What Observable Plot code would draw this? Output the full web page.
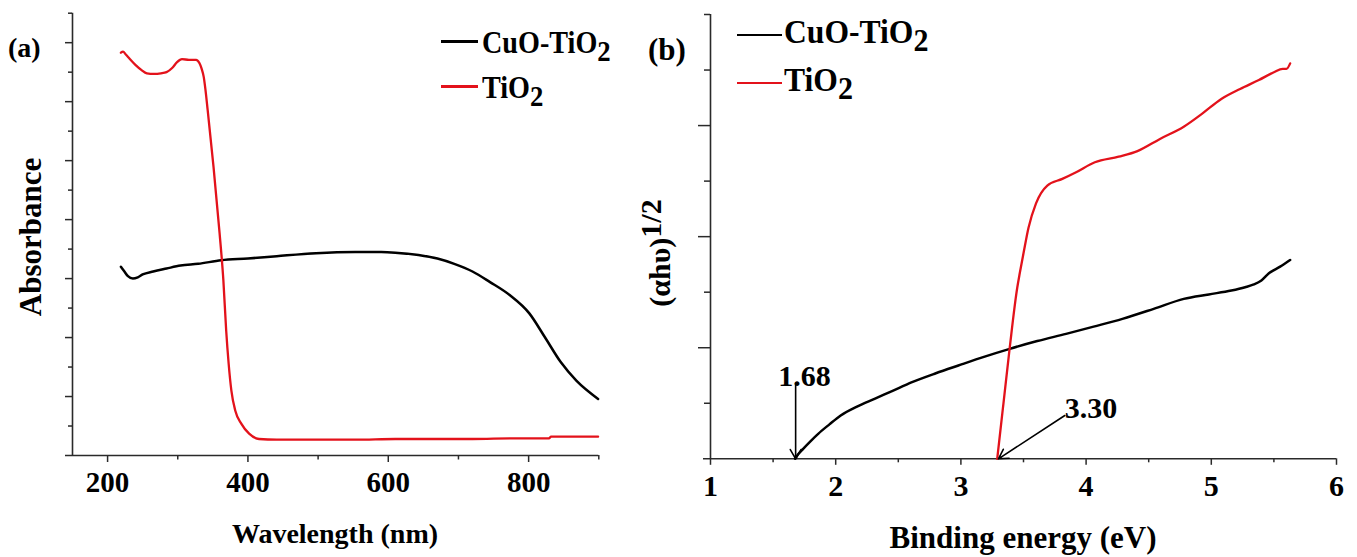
<!DOCTYPE html>
<html><head><meta charset="utf-8">
<script src="https://cdn.jsdelivr.net/npm/d3@7"></script>
<script src="https://cdn.jsdelivr.net/npm/@observablehq/plot@0.6"></script>
<style>
body{margin:0;background:#fff;}
#fig{position:relative;width:1357px;height:557px;overflow:hidden;font-family:"Liberation Serif","Times New Roman",serif;font-weight:bold;color:#000;background:#fff;}
.abs{position:absolute;white-space:nowrap;line-height:1;}
#panelA{position:absolute;left:0;top:0;width:620px;height:557px;}
#panelB{position:absolute;left:620px;top:0;width:737px;height:557px;}
#panelA svg,#panelB svg{max-width:none !important;}
.sub{position:relative;top:8px;font-size:0.95em;}
</style></head><body>
<div id="fig"><div id="panelA"></div><div id="panelB"></div></div>
<script>
// ---------- data ----------
const seriesMain = ["CuO-TiO", "TiO"];
const seriesSub = ["2", "2"];
const seriesColors = ["#000000", "#e3121b"];

// Panel (a): absorbance vs wavelength
const cuoWl  = [219, 224, 229, 236, 243, 250, 265, 284, 304, 329, 362, 400, 441, 497, 553, 590, 610, 643, 670, 694, 720, 745, 773, 801, 823, 846, 868, 899];
const cuoAbs = [3.20, 3.12, 3.04, 3.00, 3.02, 3.07, 3.12, 3.17, 3.22, 3.25, 3.31, 3.34, 3.38, 3.43, 3.45, 3.45, 3.44, 3.40, 3.34, 3.25, 3.12, 2.94, 2.72, 2.41, 2.01, 1.58, 1.27, 0.96];
const tio2Wl  = [219, 222, 226, 232, 240, 248, 256, 266, 276, 284, 292, 299, 306, 316, 326, 331, 334, 337, 339.5, 342.6, 351, 359.6, 365, 369, 372.5, 376.4, 382, 390.5, 401.7, 415.8, 441, 500, 553, 610, 666, 720, 780, 829, 832, 860, 899];
const tio2Abs = [6.83, 6.85, 6.80, 6.72, 6.62, 6.54, 6.48, 6.47, 6.48, 6.50, 6.57, 6.67, 6.72, 6.71, 6.71, 6.65, 6.56, 6.42, 6.20, 5.86, 4.89, 3.77, 2.97, 2.12, 1.56, 1.10, 0.76, 0.54, 0.37, 0.28, 0.27, 0.27, 0.27, 0.28, 0.28, 0.28, 0.29, 0.29, 0.32, 0.32, 0.32];
const aMajorX = [200, 400, 600, 800];
const aMinorX = [300, 500, 700, 900];
const aMajorY = [1, 2, 3, 4, 5, 6, 7];
const aMinorY = [0.5, 1.5, 2.5, 3.5, 4.5, 5.5, 6.5, 7.5];

// Panel (b): (alpha h nu)^1/2 vs energy
const cuoE = [1.676, 1.70, 1.74, 1.80, 1.86, 1.95, 2.04, 2.17, 2.31, 2.45, 2.61, 2.80, 2.98, 3.19, 3.39, 3.61, 3.84, 4.06, 4.29, 4.54, 4.78, 4.98, 5.16, 5.27, 5.34, 5.40, 5.46, 5.55, 5.63];
const cuoV = [0, 0.04, 0.09, 0.16, 0.225, 0.31, 0.39, 0.47, 0.54, 0.61, 0.69, 0.77, 0.84, 0.92, 0.99, 1.06, 1.125, 1.19, 1.26, 1.35, 1.44, 1.48, 1.515, 1.545, 1.57, 1.605, 1.67, 1.73, 1.79];
const tio2E = [3.29, 3.34, 3.39, 3.45, 3.47, 3.50, 3.54, 3.60, 3.69, 3.81, 3.92, 4.07, 4.26, 4.41, 4.59, 4.78, 4.93, 5.08, 5.23, 5.38, 5.50, 5.57, 5.60, 5.63];
const tio2V = [0, 0.50, 1.00, 1.54, 1.67, 1.85, 2.08, 2.30, 2.46, 2.52, 2.58, 2.67, 2.72, 2.77, 2.88, 2.99, 3.11, 3.24, 3.33, 3.41, 3.48, 3.51, 3.51, 3.56];
const bMajorX = [1, 2, 3, 4, 5, 6];
const bMinorX = [1.5, 2.5, 3.5, 4.5, 5.5];
const bMajorY = [1, 2, 3];
const bMinorY = [0.5, 1.5, 2.5, 3.5, 4];
const gapText = ["1.68", "3.30"];
const gapTextX = [1.75, 3.83];
const gapTextY = [0.74, 0.45];
const arrowX1 = [1.68, 3.83];
const arrowY1 = [0.68, 0.39];
const arrowX2 = [1.68, 3.30];
const arrowY2 = [0, 0];

// ---------- helpers ----------
const rows = (xs, ys) => xs.map((x, i) => ({x, y: ys[i]}));
const axisColor = "#2a2a2a";
const font = "'Liberation Serif','Times New Roman',serif";
const svgStyle = {fontFamily: font, fontWeight: "bold", fontSize: "29px", color: "#000", background: "transparent", overflow: "visible", maxWidth: "none"};

// ---------- panel (a) ----------
const plotA = Plot.plot({
  width: 620, height: 557,
  marginLeft: 72, marginRight: 21.7, marginTop: 12.7, marginBottom: 102,
  x: {domain: [150, 900], label: null},
  y: {domain: [0, 7.5], label: null},
  style: svgStyle,
  marks: [
    Plot.axisX(aMajorX, {tickSize: 7, tickPadding: 9, fontSize: 29, label: null, stroke: axisColor, fill: "#000", strokeWidth: 1.5, tickFormat: d => String(d)}),
    Plot.axisX(aMinorX, {tickSize: 4.5, tickFormat: () => "", label: null, stroke: axisColor, strokeWidth: 1.5}),
    Plot.axisY(aMajorY, {tickSize: 7, tickFormat: () => "", label: null, stroke: axisColor, strokeWidth: 1.5}),
    Plot.axisY(aMinorY, {tickSize: 4, tickFormat: () => "", label: null, stroke: axisColor, strokeWidth: 1.5}),
    Plot.ruleY([0], {stroke: axisColor, strokeWidth: 1.6, insetLeft: -7}),
    Plot.ruleX([150], {stroke: axisColor, strokeWidth: 1.6}),
    Plot.line(rows(cuoWl, cuoAbs), {x: "x", y: "y", stroke: seriesColors[0], strokeWidth: 2.5, curve: "monotone-x"}),
    Plot.line(rows(tio2Wl, tio2Abs), {x: "x", y: "y", stroke: seriesColors[1], strokeWidth: 2.3, curve: "monotone-x"})
  ]
});
document.getElementById("panelA").appendChild(plotA);

// ---------- panel (b) ----------
const plotB = Plot.plot({
  width: 737, height: 557,
  marginLeft: 90, marginRight: 21, marginTop: 14, marginBottom: 98.7,
  x: {domain: [1, 6], label: null},
  y: {domain: [0, 4], label: null},
  style: svgStyle,
  marks: [
    Plot.axisX(bMajorX, {tickSize: 6.5, tickPadding: 9.5, fontSize: 30, label: null, stroke: axisColor, fill: "#000", strokeWidth: 1.5, tickFormat: d => String(d)}),
    Plot.axisX(bMinorX, {tickSize: 4, tickFormat: () => "", label: null, stroke: axisColor, strokeWidth: 1.5}),
    Plot.axisY(bMajorY, {tickSize: 12, tickFormat: () => "", label: null, stroke: axisColor, strokeWidth: 1.5}),
    Plot.axisY(bMinorY, {tickSize: 6, tickFormat: () => "", label: null, stroke: axisColor, strokeWidth: 1.5}),
    Plot.ruleY([0], {stroke: axisColor, strokeWidth: 1.6, insetLeft: -7}),
    Plot.ruleX([1], {stroke: axisColor, strokeWidth: 1.6}),
    Plot.line(rows(cuoE, cuoV), {x: "x", y: "y", stroke: seriesColors[0], strokeWidth: 2.5, curve: "monotone-x"}),
    Plot.line(rows(tio2E, tio2V), {x: "x", y: "y", stroke: seriesColors[1], strokeWidth: 2.3, curve: "monotone-x"}),
    Plot.arrow(arrowX1.map((x1, i) => ({x1, y1: arrowY1[i], x2: arrowX2[i], y2: arrowY2[i]})),
      {x1: "x1", y1: "y1", x2: "x2", y2: "y2", stroke: "#000", strokeWidth: 1.6, headLength: 10}),
    Plot.text([0], {x: () => gapTextX[0], y: () => gapTextY[0], text: () => gapText[0], textAnchor: "middle", lineAnchor: "middle", fontSize: 30, fontWeight: "bold", fill: "#000"}),
    Plot.text([1], {x: () => gapTextX[1], y: () => gapTextY[1], text: () => gapText[1], textAnchor: "start", lineAnchor: "middle", fontSize: 30, fontWeight: "bold", fill: "#000"})
  ]
});
document.getElementById("panelB").appendChild(plotB);

// ---------- HTML text: legends, titles, panel labels ----------
const fig = document.getElementById("fig");
function addText(html, left, top, size, extra = "") {
  const d = document.createElement("div");
  d.className = "abs";
  d.style.left = left + "px";
  d.style.top = top + "px";
  d.style.fontSize = size + "px";
  d.style.cssText += extra;
  d.innerHTML = html;
  fig.appendChild(d);
  return d;
}
function addLine(x1, x2, y, color, w) {
  const d = document.createElement("div");
  d.style.cssText = `position:absolute;left:${x1}px;top:${y - w / 2}px;width:${x2 - x1}px;height:${w}px;background:${color};`;
  fig.appendChild(d);
}
function legend(lineX1, lineX2, textX, baseline0, gap, lineAbove, size, sx) {
  seriesMain.forEach((name, i) => {
    const base = baseline0 + i * gap;
    addLine(lineX1, lineX2, base - lineAbove, seriesColors[i], 2.6);
    addText(`${name}<span class="sub">${seriesSub[i]}</span>`, textX, base - 0.8375 * size, size,
      `transform:scaleX(${sx});transform-origin:left center;`);
  });
}
legend(441, 478, 482, 53, 45, 11.3, 32, 0.88);
legend(737, 782, 784, 43.3, 48, 8.3, 34, 0.93);

// panel labels
addText("(a)", 8, 57 - 0.8375 * 28, 28);
addText("(b)", 648, 60 - 0.8375 * 31, 31);

// x titles (centred on each frame)
addText("Wavelength (nm)", 335, 543 - 0.8375 * 28, 28, "transform:translateX(-50%);");
addText("Binding energy (eV)", 1023, 548 - 0.8375 * 31, 31, "transform:translateX(-50%);");

// y titles (rotated)
addText("Absorbance", 29.5, 237, 31, "transform:translate(-50%,-50%) rotate(-90deg);");
addText("(&alpha;h&upsilon;)<span style=\"position:relative;top:-9px;\">1/2</span>", 660, 253, 30, "transform:translate(-50%,-50%) rotate(-90deg);");
</script>
</body></html>
